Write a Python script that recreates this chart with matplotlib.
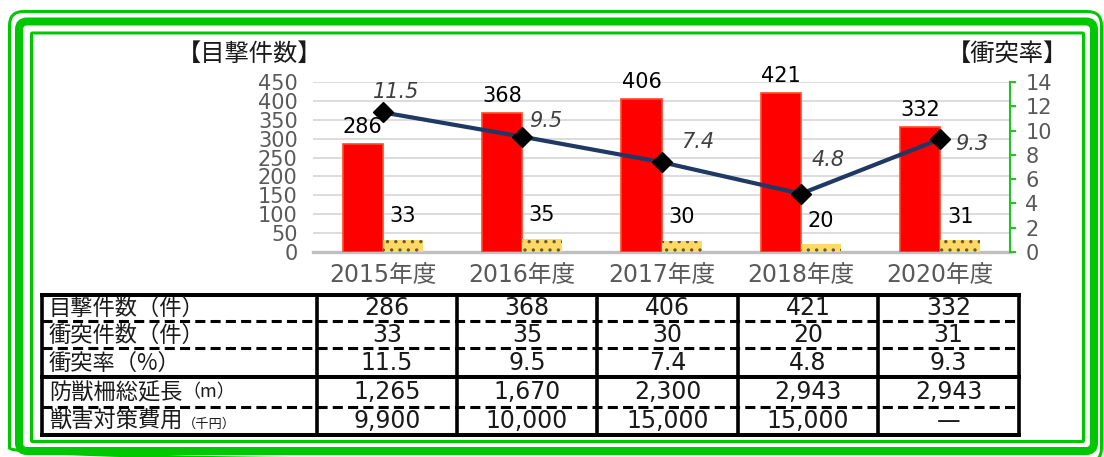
import numpy as np
import matplotlib.pyplot as plt
import matplotlib.transforms as mtransforms
from matplotlib.lines import Line2D
from matplotlib.patches import FancyBboxPatch

# --- data ---
years = ["2015年度", "2016年度", "2017年度", "2018年度", "2020年度"]
sightings = [286, 368, 406, 421, 332]
collisions = [33, 35, 30, 20, 31]
rate = [11.5, 9.5, 7.4, 4.8, 9.3]
fence_len = [1265, 1670, 2300, 2943, 2943]
cost = [9900, 10000, 15000, 15000, None]

row_labels = ["目撃件数（件）", "衝突件数（件）", "衝突率（%）", "防獣柵総延長", "獣害対策費用"]
row_suffix = ["", "", "", "（m）", "（千円）"]

W, H = 1104, 457
plt.rcParams["font.family"] = ["DejaVu Sans", "Noto Sans CJK JP"]
plt.rcParams["hatch.color"] = "#6b5a2a"
plt.rcParams["hatch.linewidth"] = 1.2

fig = plt.figure(figsize=(W / 100, H / 100), dpi=100)
# pixel coords, y measured from the top
T = mtransforms.Affine2D().scale(1 / W, -1 / H).translate(0, 1) + fig.transFigure

green = "#00C800"
for (x0, y0, x1, y1, lw, r) in [(9.5, 11.5, 1101.5, 462, 3, 14),
                                (19, 21.5, 1094, 451, 8, 8),
                                (31.5, 33, 1083.5, 441.5, 3, 1)]:
    fig.add_artist(FancyBboxPatch((x0, y0), x1 - x0, y1 - y0,
                                  boxstyle=f"round,pad=0,rounding_size={r}",
                                  transform=T, fill=False, edgecolor=green,
                                  linewidth=lw * 0.72, clip_on=False))

# --- chart ---
ax = fig.add_axes([313 / W, 1 - 252 / H, 697 / W, 170 / H])
x = np.arange(len(years))
w = 0.287
ax.bar(x - w / 2, sightings, w, color="#FF0000", edgecolor="#FF4A2A", linewidth=1.2, zorder=3)
ax.bar(x + w / 2, collisions, w, color="#FFD966", hatch="..", linewidth=0, zorder=3)
ax.set_xlim(-0.5, 4.5)
ax.set_ylim(0, 450)
ax.set_yticks(np.arange(0, 451, 50))
ax.set_xticks(x)
ax.set_xticklabels(years, fontsize=17, color="#595959")
ax.tick_params(axis="x", length=0, pad=8)
ax.tick_params(axis="y", length=0, pad=11, labelsize=15, labelcolor="#595959")
ax.grid(axis="y", color="#d9d9d9", linewidth=1.3, zorder=0)
ax.set_axisbelow(True)
for s in ["left", "top", "right"]:
    ax.spines[s].set_visible(False)
ax.spines["bottom"].set_color("#bfbfbf")
ax.spines["bottom"].set_linewidth(2.4)

for i, v in enumerate(sightings):
    ax.annotate(str(v), (i - w / 2, v), xytext=(0, 5), textcoords="offset points",
                ha="center", va="bottom", fontsize=15, color="black", zorder=5)
for i, v in enumerate(collisions):
    ax.annotate(str(v), (i + w / 2, v), xytext=(0, 17), textcoords="offset points",
                ha="center", va="center", fontsize=15, color="black", zorder=5)

ax2 = ax.twinx()
ax2.plot(x, rate, color="#1F3864", linewidth=3, marker="D", markersize=10,
         markerfacecolor="black", markeredgecolor="black", zorder=4)
ax2.set_ylim(0, 14)
ax2.set_yticks(np.arange(0, 15, 2))
for s in ["left", "top", "bottom"]:
    ax2.spines[s].set_visible(False)
ax2.spines["right"].set_color("#22C422")
ax2.spines["right"].set_linewidth(1.5)
ax2.tick_params(axis="y", colors="#22C422", length=4, width=1.5, pad=7,
                labelsize=15, labelcolor="#595959")

rate_offsets = [(13, 20), (24, 16), (36, 20), (27, 34), (31, -5)]
for i, (v, off) in enumerate(zip(rate, rate_offsets)):
    ax2.annotate(f"{v:.1f}", (i, v), xytext=off, textcoords="offset pixels",
                 ha="center", va="center", fontsize=15, style="italic", color="#404040")

fig.text(250, 54, "【目撃件数】", transform=T, ha="center", va="center",
         fontsize=17.5, family="Noto Sans CJK JP", color="#1a1a1a")
fig.text(1007, 54, "【衝突率】", transform=T, ha="center", va="center",
         fontsize=17.5, family="Noto Sans CJK JP", color="#1a1a1a")

# --- table ---
col_edges = [42, 317, 457, 597, 738, 878, 1019]
row_edges = [295, 321, 348, 377, 407, 435]
solid_rows = [0, 3, 5]

cells = [
    [str(v) for v in sightings],
    [str(v) for v in collisions],
    [f"{v:.1f}" for v in rate],
    [f"{v:,}" for v in fence_len],
    [f"{v:,}" if v is not None else "—" for v in cost],
]

for k, y in enumerate(row_edges):
    if k in solid_rows:
        fig.add_artist(Line2D([col_edges[0], col_edges[-1]], [y, y], transform=T,
                              color="black", linewidth=2.9, solid_capstyle="projecting"))
    else:
        fig.add_artist(Line2D([col_edges[0], col_edges[-1]], [y, y], transform=T,
                              color="black", linewidth=2.2, linestyle=(0, (3.3, 1.7))))
for xe in col_edges:
    fig.add_artist(Line2D([xe, xe], [row_edges[0], row_edges[-1]], transform=T,
                          color="black", linewidth=2.6))

for r in range(len(row_labels)):
    yc = (row_edges[r] + row_edges[r + 1]) / 2
    lab = fig.text(49, yc + 0.5, row_labels[r], transform=T, ha="left", va="center",
                   fontsize=16, family="Noto Sans CJK JP", color="#1a1a1a")
    if row_suffix[r]:
        sz = 13 if r == 3 else 9.5
        ax.annotate(row_suffix[r], xy=(1, 0.12), xycoords=lab, ha="left", va="bottom",
                    fontsize=sz, family="Noto Sans CJK JP", color="#1a1a1a",
                    annotation_clip=False)
    for c in range(len(years)):
        xc = (col_edges[c + 1] + col_edges[c + 2]) / 2
        fig.text(xc, yc, cells[r][c], transform=T, ha="center", va="center",
                 fontsize=17, color="#1a1a1a")

fig.savefig("out.png", dpi=100)
